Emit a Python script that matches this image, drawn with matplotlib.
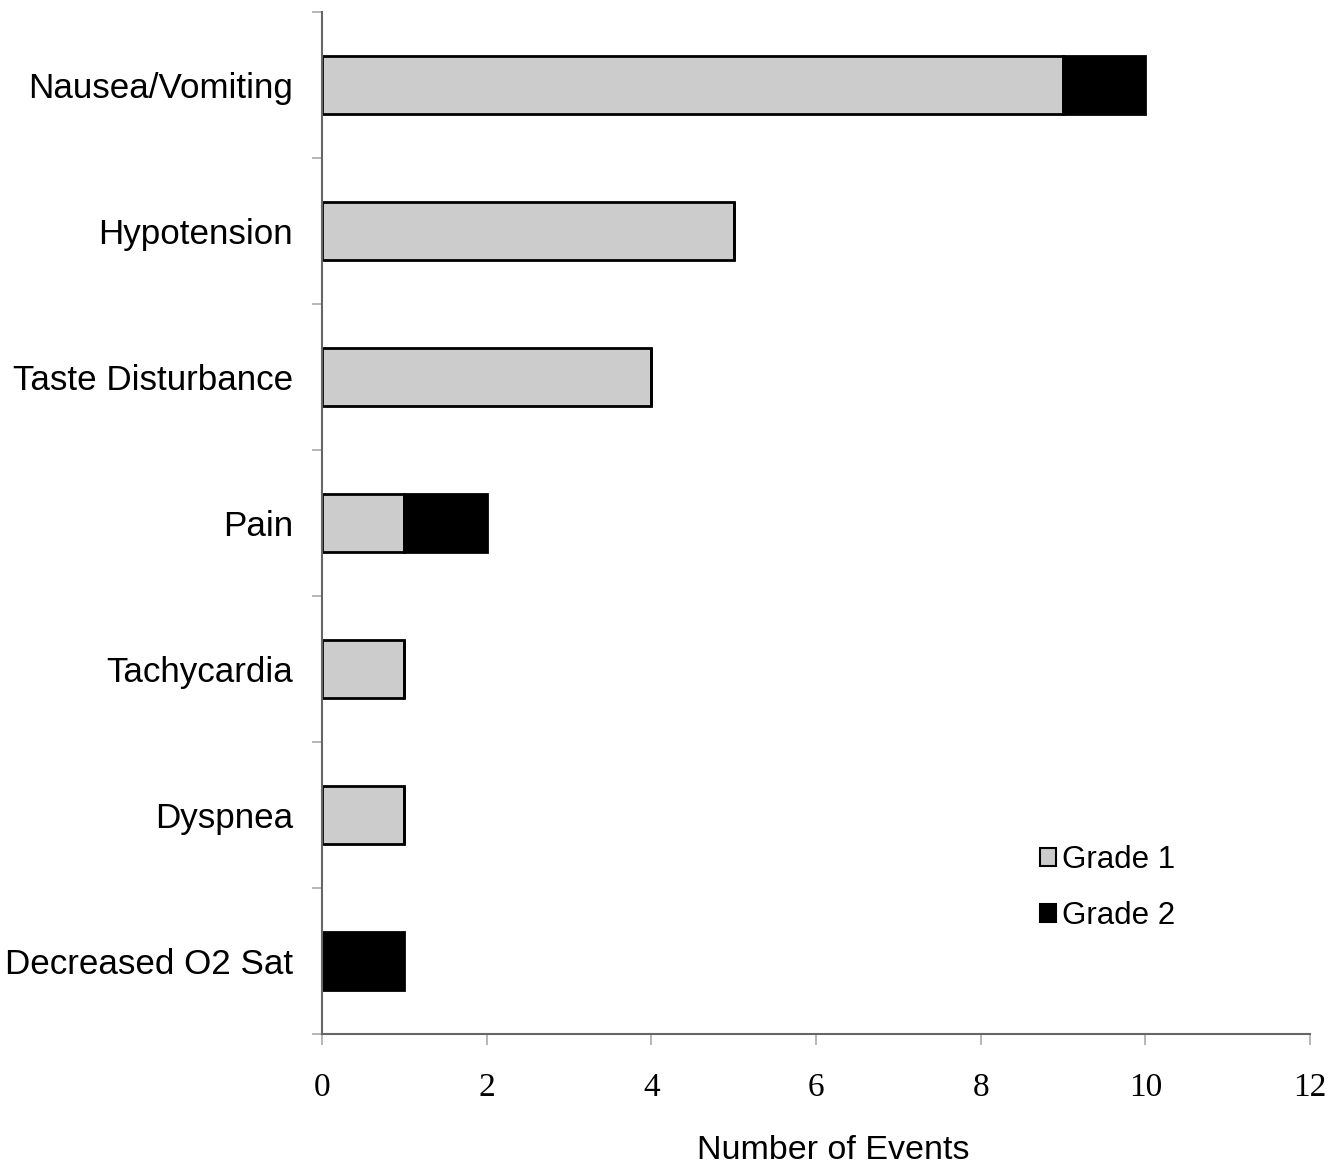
import matplotlib
matplotlib.use("Agg")
import matplotlib.pyplot as plt
from matplotlib.patches import Patch
import numpy as np

categories = ["Nausea/Vomiting", "Hypotension", "Taste Disturbance", "Pain",
              "Tachycardia", "Dyspnea", "Decreased O2 Sat"]
grade1 = [9, 5, 4, 1, 1, 1, 0]
grade2 = [1, 0, 0, 1, 0, 0, 1]
series_labels = ["Grade 1", "Grade 2"]
xticks = [0, 2, 4, 6, 8, 10, 12]

fig = plt.figure(figsize=(13.44, 11.65), dpi=100)
ax = fig.add_axes([322/1344, 1 - 1034/1165, (1310-322)/1344, (1034-12)/1165])

y = np.arange(len(categories))
ax.barh(y, grade1, height=0.4, color="#cccccc", edgecolor="black", linewidth=2)
ax.barh(y, grade2, left=grade1, height=0.4, color="black", edgecolor="black", linewidth=2)

ax.set_ylim(len(categories) - 0.5, -0.5)
ax.set_xlim(0, 12)

ax.set_yticks(y)
ax.set_yticklabels(categories, fontfamily="Liberation Sans", fontsize=25.2)
ax.set_yticks(np.arange(-0.5, len(categories)), minor=True)
ax.tick_params(axis="y", which="major", length=0, pad=21)
ax.tick_params(axis="y", which="minor", length=7, width=1.2, color="#aaaaaa", direction="out")

ax.set_xticks(xticks)
ax.set_xticklabels([str(v) for v in xticks], fontfamily="Liberation Serif", fontsize=24)
ax.tick_params(axis="x", length=8, width=1.2, color="#aaaaaa", direction="out", pad=20)

for s in ["top", "right"]:
    ax.spines[s].set_visible(False)
for s in ["left", "bottom"]:
    ax.spines[s].set_color("#666666")
    ax.spines[s].set_linewidth(1.5)

ax.set_xlabel("Number of Events", fontfamily="Liberation Sans", fontsize=24.5,
              labelpad=23, x=0.517)

handles = [Patch(facecolor="#cccccc", edgecolor="black", linewidth=1.5),
           Patch(facecolor="black", edgecolor="black", linewidth=1.5)]
ax.legend(handles, series_labels, loc="upper left", bbox_to_anchor=(0.727, 0.185),
          frameon=False, prop={"family": "Liberation Sans", "size": 22.5},
          handlelength=0.5, handleheight=0.5, handletextpad=0.2, labelspacing=0.85,
          borderpad=0, borderaxespad=0)

fig.savefig("out.png", dpi=100, facecolor="white")
